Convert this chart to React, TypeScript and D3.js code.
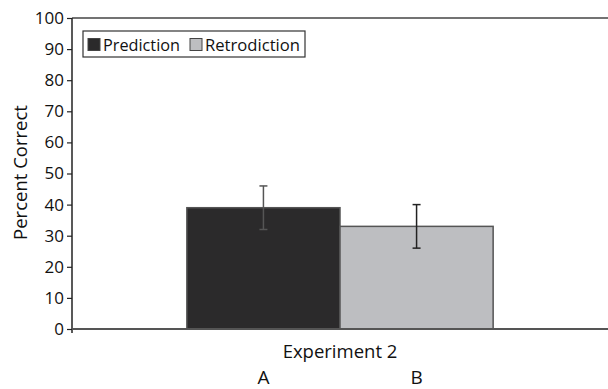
import React, { useRef, useEffect } from 'react';
import * as d3 from 'd3';

const categories = ['Experiment 2'];
const seriesNames = ['Prediction', 'Retrodiction'];
const seriesColors = ['#2b2a2b', '#bdbec1'];
const seriesStroke = ['#555555', '#555555'];
const values = [39, 33];
const errLow = [32, 26];
const errHigh = [46, 40];
const groupLabels = ['A', 'B'];
const yTicks = [0, 10, 20, 30, 40, 50, 60, 70, 80, 90, 100];

const W = 608;
const H = 389;
const margin = { top: 18, right: 0, bottom: 60, left: 72 };

const App = () => {
  const ref = useRef<SVGSVGElement>(null);

  useEffect(() => {
    const root = d3.select(ref.current);
    root.selectAll('*').remove();
    const width = W - margin.left - margin.right;
    const height = H - margin.top - margin.bottom;
    const font = 'Open Sans, sans-serif';

    const svg = root.append('g').attr('transform', `translate(${margin.left},${margin.top})`);

    const x0 = d3.scaleBand().domain(categories).range([0, width]).paddingInner(0).paddingOuter(0.375);
    const x1 = d3.scaleBand().domain(seriesNames).range([0, x0.bandwidth()]);
    const y = d3.scaleLinear().domain([0, 100]).range([height, 0]);

    // top border
    svg.append('line')
      .attr('x1', 0).attr('x2', width).attr('y1', 0).attr('y2', 0)
      .attr('stroke', '#444').attr('stroke-width', 1.5);

    const group = svg.append('g').attr('transform', `translate(${x0(categories[0])},0)`);
    group.selectAll('rect')
      .data(values)
      .enter()
      .append('rect')
      .attr('x', (d, i) => x1(seriesNames[i]))
      .attr('y', (d) => y(d))
      .attr('width', x1.bandwidth())
      .attr('height', (d) => height - y(d))
      .attr('fill', (d, i) => seriesColors[i])
      .attr('stroke', (d, i) => seriesStroke[i])
      .attr('stroke-width', 1.5);

    // error bars
    values.forEach((v, i) => {
      const cx = x1(seriesNames[i]) + x1.bandwidth() / 2;
      const col = i === 0 ? '#555' : '#222';
      group.append('line')
        .attr('x1', cx).attr('x2', cx).attr('y1', y(errHigh[i])).attr('y2', y(errLow[i]))
        .attr('stroke', col).attr('stroke-width', 1.5);
      [errHigh[i], errLow[i]].forEach((e) => {
        group.append('line')
          .attr('x1', cx - 4).attr('x2', cx + 4).attr('y1', y(e)).attr('y2', y(e))
          .attr('stroke', col).attr('stroke-width', 1.5);
      });
      group.append('text')
        .attr('x', cx).attr('y', height + 55)
        .attr('text-anchor', 'middle')
        .attr('font-family', font).attr('font-size', 19).attr('fill', '#111')
        .text(groupLabels[i]);
    });

    // y axis
    const yAxis = d3.axisLeft(y).tickValues(yTicks).tickSize(5).tickPadding(3);
    const ya = svg.append('g').call(yAxis);
    ya.select('.domain').remove();
    ya.selectAll('line').attr('stroke', '#222').attr('stroke-width', 1.2);
    ya.selectAll('text').attr('font-family', font).attr('font-size', 17).attr('fill', '#111');
    svg.append('line')
      .attr('x1', 0).attr('x2', 0).attr('y1', 0).attr('y2', height + 4)
      .attr('stroke', '#222').attr('stroke-width', 1.5);

    // x axis
    svg.append('line')
      .attr('x1', 0).attr('x2', width).attr('y1', height).attr('y2', height)
      .attr('stroke', '#555').attr('stroke-width', 1.8);
    svg.append('text')
      .attr('x', x0(categories[0]) + x0.bandwidth() / 2).attr('y', height + 29)
      .attr('text-anchor', 'middle')
      .attr('font-family', font).attr('font-size', 18.5).attr('fill', '#111')
      .text(categories[0]);

    // y label
    svg.append('text')
      .attr('transform', `translate(${-45},${height / 2 - 1}) rotate(-90)`)
      .attr('text-anchor', 'middle')
      .attr('font-family', font).attr('font-size', 18.5).attr('fill', '#111')
      .text('Percent Correct');

    // legend
    const lg = svg.append('g').attr('transform', 'translate(11,13)');
    lg.append('rect')
      .attr('width', 222).attr('height', 26)
      .attr('fill', 'white').attr('stroke', '#333').attr('stroke-width', 1.2);
    const offsets = [5, 107];
    seriesNames.forEach((s, i) => {
      const g = lg.append('g').attr('transform', `translate(${offsets[i]},0)`);
      g.append('rect')
        .attr('x', 0).attr('y', 7.5).attr('width', 12).attr('height', 12)
        .attr('fill', seriesColors[i]).attr('stroke', '#444').attr('stroke-width', 1);
      g.append('text')
        .attr('x', 15).attr('y', 19.5)
        .attr('font-family', font).attr('font-size', 16.5).attr('fill', '#111')
        .attr('textLength', i === 0 ? 77 : 95)
        .attr('lengthAdjust', 'spacingAndGlyphs')
        .text(s);
    });
  }, []);

  return (
    <svg ref={ref} width={W} height={H} style={{ position: 'absolute', left: 0, top: 0, background: 'white' }} />
  );
};

export default App;
